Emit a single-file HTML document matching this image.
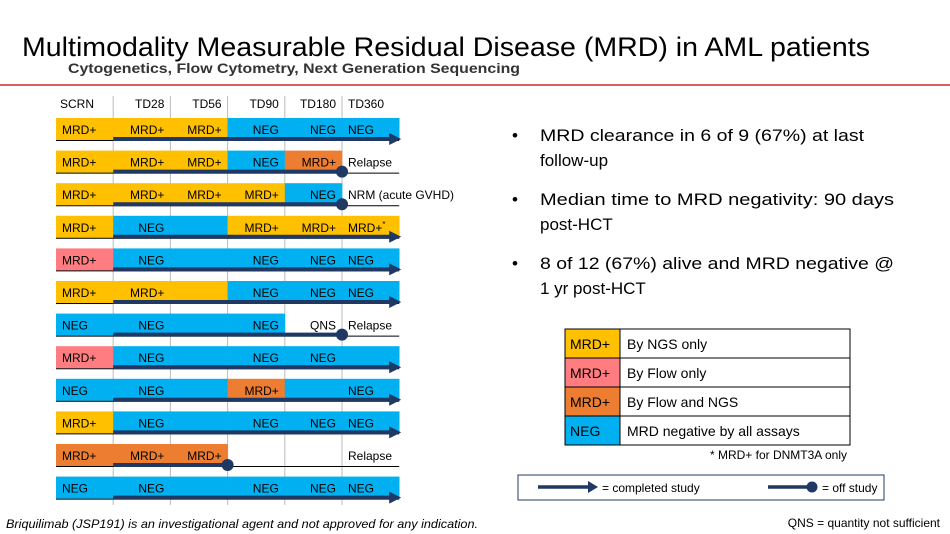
<!DOCTYPE html>
<html><head><meta charset="utf-8"><style>
body{margin:0;width:950px;height:534px;background:#fff;overflow:hidden;font-family:"Liberation Sans",sans-serif}
svg{display:block}
</style></head><body>
<svg id="s" width="950" height="534" viewBox="0 0 950 534" xmlns="http://www.w3.org/2000/svg" font-family="Liberation Sans, sans-serif">
<text x="22" y="56" font-size="27" fill="#000" textLength="848" lengthAdjust="spacingAndGlyphs">Multimodality Measurable Residual Disease (MRD) in AML patients</text>
<text x="68" y="73" font-size="14" font-weight="bold" fill="#333" textLength="452" lengthAdjust="spacingAndGlyphs">Cytogenetics, Flow Cytometry, Next Generation Sequencing</text>
<line x1="0" y1="85" x2="950" y2="85" stroke="#C00000" stroke-width="1.2"/>
<g id="chart"></g>
<g font-size="17" fill="#000">
<text x="512" y="141">•</text><text x="540" y="141" textLength="324" lengthAdjust="spacingAndGlyphs">MRD clearance in 6 of 9 (67%) at last</text>
<text x="540" y="166">follow-up</text>
<text x="512" y="205">•</text><text x="540" y="205" textLength="354" lengthAdjust="spacingAndGlyphs">Median time to MRD negativity: 90 days</text>
<text x="540" y="230">post-HCT</text>
<text x="512" y="269">•</text><text x="540" y="269" textLength="354" lengthAdjust="spacingAndGlyphs">8 of 12 (67%) alive and MRD negative @</text>
<text x="540" y="294">1 yr post-HCT</text>
</g>
<g id="legend"></g>
<text x="847" y="459" font-size="12" text-anchor="end">* MRD+ for DNMT3A only</text>
<g>
<rect x="518" y="475" width="366" height="25" fill="#fff" stroke="#1F3864" stroke-width="1"/>
<line x1="538" y1="487" x2="590" y2="487" stroke="#1F3864" stroke-width="3.5"/>
<polygon points="588,481 598,487 588,493" fill="#1F3864"/>
<text x="602" y="492" font-size="12">= completed study</text>
<line x1="768" y1="487" x2="812" y2="487" stroke="#1F3864" stroke-width="3.5"/>
<circle cx="812" cy="487" r="5.5" fill="#1F3864"/>
<text x="822" y="492" font-size="12">= off study</text>
</g>
<text x="6" y="528" font-size="12" font-style="italic" textLength="472" lengthAdjust="spacingAndGlyphs">Briquilimab (JSP191) is an investigational agent and not approved for any indication.</text>
<text x="940" y="527" font-size="12" text-anchor="end">QNS = quantity not sufficient</text>
</svg>
<script>
const NS="http://www.w3.org/2000/svg";
const timepoints=["SCRN","TD28","TD56","TD90","TD180","TD360"];
// cell codes: Y=NGS only, P=Flow only, O=Flow+NGS, B=negative, W=blank
const rowColors=[
["Y","Y","Y","B","B","B"],["Y","Y","Y","B","O","W"],["Y","Y","Y","Y","B","W"],
["Y","B","B","Y","Y","Y"],["P","B","B","B","B","B"],["Y","Y","Y","B","B","B"],
["B","B","B","B","W","W"],["P","B","B","B","B","B"],["B","B","B","O","B","B"],
["Y","B","B","B","B","B"],["O","O","O","W","W","W"],["B","B","B","B","B","B"]];
const rowLabels=[
["MRD+","MRD+","MRD+","NEG","NEG","NEG"],["MRD+","MRD+","MRD+","NEG","MRD+","Relapse"],
["MRD+","MRD+","MRD+","MRD+","NEG","NRM (acute GVHD)"],["MRD+","NEG","","MRD+","MRD+","MRD+*"],
["MRD+","NEG","","NEG","NEG","NEG"],["MRD+","MRD+","","NEG","NEG","NEG"],
["NEG","NEG","","NEG","QNS","Relapse"],["MRD+","NEG","","NEG","NEG",""],
["NEG","NEG","","MRD+","","NEG"],["MRD+","NEG","","NEG","NEG","NEG"],
["MRD+","MRD+","MRD+","","","Relapse"],["NEG","NEG","","NEG","NEG","NEG"]];
// study end: timepoint index where follow-up stops; "arrow" = completed
const endIndex=[6,5,5,6,6,6,5,6,6,6,3,6];
const endType=["arrow","dot","dot","arrow","arrow","arrow","dot","arrow","arrow","arrow","dot","arrow"];
const colorMap={Y:"#FFC000",P:"#FF7C80",O:"#ED7D31",B:"#00B0F0",W:"#fff"};
const x0=56,cw=57.2,y0=118,rh=32.6,ch=22;
const xAt=i=>x0+i*cw, yAt=r=>y0+r*rh;
const chart=document.getElementById("chart");
function el(t,a,p){const e=document.createElementNS(NS,t);for(const k in a)e.setAttribute(k,a[k]);(p||chart).appendChild(e);return e;}
for(let i=1;i<6;i++){
 const g=el("line",{x1:xAt(i),y1:96,x2:xAt(i),y2:505,stroke:"#bbb","stroke-width":1});
 
 
}
timepoints.forEach((t,i)=>{
 const tx=el("text",{x:i==0?xAt(0)+4:(i==5?xAt(5)+6:xAt(i+1)-6),y:108,"font-size":12,"text-anchor":(i==0||i==5)?"start":"end"});
 tx.textContent=t;
 
 
});
rowColors.forEach((row,r)=>{
 const y=yAt(r);
 row.forEach((c,i)=>{
  if(c!=="W"){const rc=el("rect",{x:xAt(i),y:y,width:cw+0.3,height:ch,fill:colorMap[c]});
   
   }
  const lab=rowLabels[r][i];
  if(lab){
   const left=(i==0||i==5);
   const tx=el("text",{x:left?xAt(i)+6:xAt(i+1)-6,y:y+16,"font-size":12,"text-anchor":left?"start":"end",fill:"#000"});
   if(lab==="MRD+*"){tx.textContent="MRD+";const sp=el("tspan",{"font-size":8,dy:-5},tx);sp.textContent="*";}
   else tx.textContent=lab;
   
   
  }
 });
 const bl=el("line",{x1:xAt(0),y1:y+ch+0.5,x2:xAt(6),y2:y+ch+0.5,stroke:"#000","stroke-width":1});
 
 
 const ex=endType[r]==="arrow"?xAt(6)-8:xAt(endIndex[r]);
 const bar=el("line",{x1:xAt(1),y1:y+ch-1,x2:ex,y2:y+ch-1,stroke:"#1F3864","stroke-width":4});
 
 
 if(endType[r]==="arrow"){
  const a=el("polygon",{points:`${ex-2},${y+ch-7} ${ex+10},${y+ch-1} ${ex-2},${y+ch+5}`,fill:"#1F3864"});
  
  
 }else{
  const d=el("circle",{cx:ex,cy:y+ch-1,r:6,fill:"#1F3864"});
  
  
 }
});
// legend table
const legCodes=["Y","P","O","B"];
const legKeys=["MRD+","MRD+","MRD+","NEG"];
const legText=["By NGS only","By Flow only","By Flow and NGS","MRD negative by all assays"];
const lg=document.getElementById("legend");
legCodes.forEach((c,i)=>{
 const y=329+i*29;
 const r1=el("rect",{x:565,y:y,width:55,height:29,fill:colorMap[c],stroke:"#000","stroke-width":1},lg);
 
 
 const r2=el("rect",{x:620,y:y,width:230,height:29,fill:"#fff",stroke:"#000","stroke-width":1},lg);
 
 
 const t1=el("text",{x:570,y:y+20,"font-size":14},lg);t1.textContent=legKeys[i];
 
 
 const t2=el("text",{x:627,y:y+20,"font-size":14},lg);t2.textContent=legText[i];
 
 
});
</script>
</body></html>
